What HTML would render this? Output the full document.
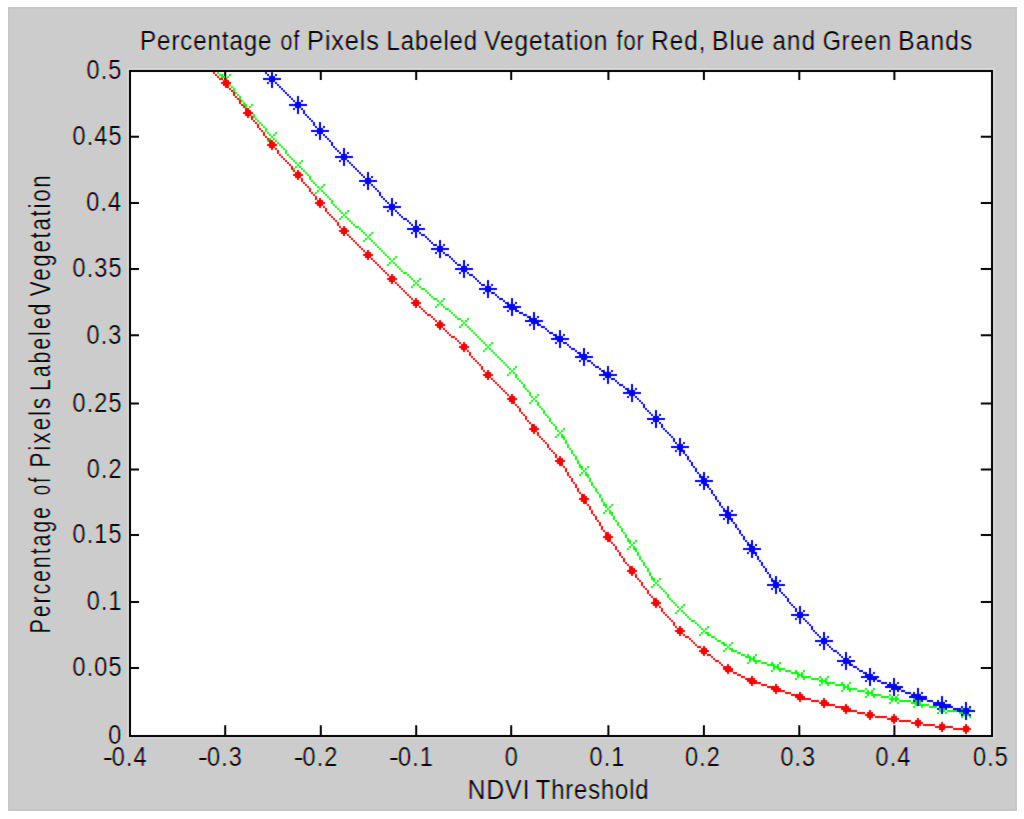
<!DOCTYPE html>
<html lang="en"><head><meta charset="utf-8"><title>Percentage of Pixels Labeled Vegetation for Red, Blue and Green Bands</title>
<style>
html,body{margin:0;padding:0;background:#fff}
body{width:1024px;height:819px;overflow:hidden;position:relative}
#fig{position:absolute;left:8px;top:7px;width:1009px;height:804px;background:#ccc;box-shadow:inset 0 0 0 2px #c7c7c7}
svg{position:absolute;left:0;top:0}
text{font-family:"Liberation Sans",Arial,Helvetica,sans-serif;fill:#000}
</style></head><body>
<div id="fig"></div>
<svg width="1024" height="819" viewBox="0 0 1024 819">
<defs>
<filter id="ct" x="0" y="0" width="1024" height="819" filterUnits="userSpaceOnUse" color-interpolation-filters="sRGB">
<feConvolveMatrix in="SourceAlpha" order="3" kernelMatrix="0.0113 0.0838 0.0113 0.0838 0.6193 0.0838 0.0113 0.0838 0.0113" divisor="1" edgeMode="none" preserveAlpha="false" result="a0"/>
<feComponentTransfer in="a0" result="a"><feFuncA type="linear" slope="1.4" intercept="-0.3"/></feComponentTransfer>
<feFlood flood-color="#fff" result="W"/>
<feOffset in="a" dx="0.7" dy="0" result="oR"/>
<feColorMatrix in="oR" type="matrix" values="0 0 0 0 0 0 0 0 0 1 0 0 0 0 1 0 0 0 1 0" result="cR"/>
<feComposite in="cR" in2="W" operator="over" result="LR"/>
<feColorMatrix in="a" type="matrix" values="0 0 0 0 1 0 0 0 0 0 0 0 0 0 1 0 0 0 1 0" result="cG"/>
<feComposite in="cG" in2="W" operator="over" result="LG"/>
<feOffset in="a" dx="-0.7" dy="0" result="oB"/>
<feColorMatrix in="oB" type="matrix" values="0 0 0 0 1 0 0 0 0 1 0 0 0 0 0 0 0 0 1 0" result="cB"/>
<feComposite in="cB" in2="W" operator="over" result="LB"/>
<feBlend in="LR" in2="LG" mode="multiply" result="m1"/>
<feBlend in="m1" in2="LB" mode="multiply" result="m2"/>
<feFlood flood-color="#cccccc" result="BG"/>
<feBlend in="m2" in2="BG" mode="multiply" result="m3"/>
<feGaussianBlur in="SourceAlpha" stdDeviation="1.1" result="wide"/>
<feComponentTransfer in="wide" result="mask"><feFuncA type="linear" slope="30" intercept="0"/></feComponentTransfer>
<feComposite in="m3" in2="mask" operator="in"/>
</filter>
<filter id="soft2" x="100" y="40" width="924" height="730" filterUnits="userSpaceOnUse" color-interpolation-filters="sRGB"><feConvolveMatrix order="3" kernelMatrix="0.0028 0.0470 0.0028 0.0470 0.8008 0.0470 0.0028 0.0470 0.0028" divisor="1" edgeMode="none" preserveAlpha="false"/></filter>
<filter id="soft" x="100" y="40" width="924" height="730" filterUnits="userSpaceOnUse" color-interpolation-filters="sRGB"><feConvolveMatrix order="3" kernelMatrix="0.0113 0.0838 0.0113 0.0838 0.6193 0.0838 0.0113 0.0838 0.0113" divisor="1" edgeMode="none" preserveAlpha="false"/></filter>
</defs>
<g filter="url(#soft2)">
<rect x="128" y="69" width="866" height="669" fill="none" stroke="#d6d6d6" stroke-width="2"/>
<rect x="130" y="71" width="862" height="665" fill="#fff" stroke="#000" stroke-width="2"/>
<path d="M224.2 735.5V725.3h2V735.5zM224.2 71.5V80h2V71.5zM319.8 735.5V725.3h2V735.5zM319.8 71.5V80h2V71.5zM415.2 735.5V725.3h2V735.5zM415.2 71.5V80h2V71.5zM510.2 735.5V725.3h2V735.5zM510.2 71.5V80h2V71.5zM607.4 735.5V725.3h2V735.5zM607.4 71.5V80h2V71.5zM702.9 735.5V725.3h2V735.5zM702.9 71.5V80h2V71.5zM798.3 735.5V725.3h2V735.5zM798.3 71.5V80h2V71.5zM893.4 735.5V725.3h2V735.5zM893.4 71.5V80h2V71.5zM130.5 667.0H139v2H130.5zM991.5 667.0H980.8v2H991.5zM130.5 600.9H139v2H130.5zM991.5 600.9H980.8v2H991.5zM130.5 534.0H139v2H130.5zM991.5 534.0H980.8v2H991.5zM130.5 468.6H139v2H130.5zM991.5 468.6H980.8v2H991.5zM130.5 402.5H139v2H130.5zM991.5 402.5H980.8v2H991.5zM130.5 334.3H139v2H130.5zM991.5 334.3H980.8v2H991.5zM130.5 268.0H139v2H130.5zM991.5 268.0H980.8v2H991.5zM130.5 202.0H139v2H130.5zM991.5 202.0H980.8v2H991.5zM130.5 135.8H139v2H130.5zM991.5 135.8H980.8v2H991.5z" fill="#000"/>
</g>
<g filter="url(#soft)"><g shape-rendering="crispEdges">
<path fill="#0f0" d="M217 72h2v2h-2zM219 74h4v2h-4zM229 74h2v2h-2zM221 76h4v2h-4zM227 76h2v2h-2zM225 78h2v2h-2zM223 80h2v2h-2zM227 80h2v2h-2zM221 82h2v2h-2zM227 82h4v2h-4zM229 84h2v2h-2zM231 86h2v2h-2zM233 88h2v2h-2zM233 90h2v2h-2zM235 92h2v2h-2zM237 94h2v2h-2zM239 96h2v2h-2zM239 98h2v2h-2zM241 100h2v2h-2zM243 102h2v2h-2zM243 104h4v2h-4zM251 104h2v2h-2zM245 106h2v2h-2zM249 106h2v2h-2zM247 108h2v2h-2zM245 110h2v2h-2zM249 110h2v2h-2zM243 112h2v2h-2zM251 112h2v2h-2zM253 114h2v2h-2zM253 116h2v2h-2zM255 118h2v2h-2zM257 120h2v2h-2zM259 122h2v2h-2zM261 124h2v2h-2zM263 126h2v2h-2zM265 128h2v2h-2zM265 130h2v2h-2zM267 132h2v2h-2zM275 132h2v2h-2zM269 134h2v2h-2zM273 134h2v2h-2zM271 136h2v2h-2zM269 138h2v2h-2zM273 138h2v2h-2zM267 140h2v2h-2zM275 140h2v2h-2zM277 142h2v2h-2zM279 144h2v2h-2zM281 146h2v2h-2zM283 148h2v2h-2zM285 150h2v2h-2zM285 152h2v2h-2zM287 154h2v2h-2zM289 156h2v2h-2zM291 158h2v2h-2zM293 160h2v2h-2zM301 160h2v2h-2zM295 162h2v2h-2zM299 162h2v2h-2zM297 164h2v2h-2zM295 166h2v2h-2zM299 166h2v2h-2zM293 168h2v2h-2zM301 168h2v2h-2zM303 170h2v2h-2zM305 172h2v2h-2zM307 174h2v2h-2zM309 176h2v2h-2zM309 178h2v2h-2zM311 180h2v2h-2zM313 182h2v2h-2zM315 184h2v2h-2zM323 184h2v2h-2zM317 186h2v2h-2zM321 186h2v2h-2zM319 188h2v2h-2zM317 190h2v2h-2zM321 190h2v2h-2zM315 192h2v2h-2zM323 192h2v2h-2zM325 194h2v2h-2zM327 196h2v2h-2zM329 198h2v2h-2zM331 200h2v2h-2zM331 202h2v2h-2zM333 204h2v2h-2zM335 206h2v2h-2zM337 208h2v2h-2zM339 210h2v2h-2zM347 210h2v2h-2zM341 212h2v2h-2zM345 212h2v2h-2zM343 214h2v2h-2zM341 216h2v2h-2zM345 216h2v2h-2zM339 218h2v2h-2zM347 218h2v2h-2zM349 220h2v2h-2zM351 222h2v2h-2zM353 224h2v2h-2zM355 226h4v2h-4zM359 228h2v2h-2zM361 230h2v2h-2zM363 232h2v2h-2zM371 232h2v2h-2zM365 234h2v2h-2zM369 234h2v2h-2zM367 236h2v2h-2zM365 238h2v2h-2zM369 238h2v2h-2zM363 240h2v2h-2zM371 240h2v2h-2zM373 242h2v2h-2zM375 244h2v2h-2zM377 246h2v2h-2zM379 248h2v2h-2zM381 250h2v2h-2zM383 252h2v2h-2zM385 254h2v2h-2zM387 256h2v2h-2zM395 256h2v2h-2zM389 258h2v2h-2zM393 258h2v2h-2zM391 260h2v2h-2zM389 262h2v2h-2zM393 262h2v2h-2zM387 264h2v2h-2zM395 264h2v2h-2zM397 266h2v2h-2zM399 268h2v2h-2zM401 270h2v2h-2zM403 272h4v2h-4zM407 274h2v2h-2zM409 276h2v2h-2zM411 278h2v2h-2zM419 278h2v2h-2zM413 280h2v2h-2zM417 280h2v2h-2zM415 282h2v2h-2zM413 284h2v2h-2zM417 284h2v2h-2zM411 286h2v2h-2zM419 286h2v2h-2zM421 288h4v2h-4zM425 290h2v2h-2zM427 292h2v2h-2zM429 294h2v2h-2zM431 296h2v2h-2zM433 298h4v2h-4zM443 298h2v2h-2zM437 300h2v2h-2zM441 300h2v2h-2zM439 302h2v2h-2zM437 304h2v2h-2zM441 304h2v2h-2zM435 306h2v2h-2zM443 306h2v2h-2zM445 308h4v2h-4zM449 310h2v2h-2zM451 312h2v2h-2zM453 314h2v2h-2zM455 316h2v2h-2zM457 318h4v2h-4zM467 318h2v2h-2zM461 320h2v2h-2zM465 320h2v2h-2zM463 322h2v2h-2zM461 324h2v2h-2zM465 324h2v2h-2zM459 326h2v2h-2zM467 326h2v2h-2zM469 328h2v2h-2zM471 330h2v2h-2zM473 332h2v2h-2zM475 334h2v2h-2zM477 336h2v2h-2zM479 338h2v2h-2zM481 340h2v2h-2zM483 342h2v2h-2zM491 342h2v2h-2zM485 344h2v2h-2zM489 344h2v2h-2zM487 346h2v2h-2zM485 348h2v2h-2zM489 348h2v2h-2zM483 350h2v2h-2zM491 350h2v2h-2zM493 352h2v2h-2zM495 354h2v2h-2zM497 356h2v2h-2zM499 358h2v2h-2zM501 360h2v2h-2zM503 362h2v2h-2zM505 364h2v2h-2zM507 366h2v2h-2zM515 366h2v2h-2zM509 368h2v2h-2zM513 368h2v2h-2zM511 370h2v2h-2zM509 372h2v2h-2zM513 372h2v2h-2zM507 374h2v2h-2zM515 374h2v2h-2zM515 376h2v2h-2zM517 378h2v2h-2zM519 380h2v2h-2zM521 382h2v2h-2zM523 384h2v2h-2zM523 386h2v2h-2zM525 388h2v2h-2zM527 390h2v2h-2zM529 392h2v2h-2zM529 394h2v2h-2zM537 394h2v2h-2zM531 396h2v2h-2zM535 396h2v2h-2zM533 398h2v2h-2zM531 400h2v2h-2zM535 400h2v2h-2zM529 402h2v2h-2zM537 402h2v2h-2zM537 404h2v2h-2zM539 406h2v2h-2zM541 408h2v2h-2zM543 410h2v2h-2zM543 412h2v2h-2zM545 414h2v2h-2zM547 416h2v2h-2zM549 418h2v2h-2zM549 420h2v2h-2zM551 422h2v2h-2zM553 424h2v2h-2zM555 426h2v2h-2zM555 428h2v2h-2zM563 428h2v2h-2zM557 430h2v2h-2zM561 430h2v2h-2zM559 432h2v2h-2zM557 434h2v2h-2zM561 434h2v2h-2zM555 436h2v2h-2zM561 436h4v2h-4zM563 438h2v2h-2zM565 440h2v2h-2zM565 442h2v2h-2zM567 444h2v2h-2zM567 446h2v2h-2zM569 448h2v2h-2zM571 450h2v2h-2zM571 452h2v2h-2zM573 454h2v2h-2zM575 456h2v2h-2zM575 458h2v2h-2zM577 460h2v2h-2zM577 462h2v2h-2zM579 464h2v2h-2zM579 466h4v2h-4zM587 466h2v2h-2zM581 468h2v2h-2zM585 468h2v2h-2zM583 470h2v2h-2zM581 472h2v2h-2zM585 472h2v2h-2zM579 474h2v2h-2zM585 474h4v2h-4zM587 476h2v2h-2zM589 478h2v2h-2zM589 480h2v2h-2zM591 482h2v2h-2zM591 484h2v2h-2zM593 486h2v2h-2zM595 488h2v2h-2zM595 490h2v2h-2zM597 492h2v2h-2zM599 494h2v2h-2zM599 496h2v2h-2zM601 498h2v2h-2zM601 500h2v2h-2zM603 502h2v2h-2zM603 504h4v2h-4zM611 504h2v2h-2zM605 506h2v2h-2zM609 506h2v2h-2zM607 508h2v2h-2zM605 510h2v2h-2zM609 510h2v2h-2zM603 512h2v2h-2zM609 512h4v2h-4zM611 514h2v2h-2zM613 516h2v2h-2zM613 518h2v2h-2zM615 520h2v2h-2zM617 522h2v2h-2zM617 524h2v2h-2zM619 526h2v2h-2zM621 528h2v2h-2zM621 530h2v2h-2zM623 532h2v2h-2zM625 534h2v2h-2zM625 536h2v2h-2zM627 538h2v2h-2zM627 540h4v2h-4zM635 540h2v2h-2zM629 542h2v2h-2zM633 542h2v2h-2zM631 544h2v2h-2zM629 546h2v2h-2zM633 546h2v2h-2zM627 548h2v2h-2zM633 548h4v2h-4zM635 550h2v2h-2zM637 552h2v2h-2zM637 554h2v2h-2zM639 556h2v2h-2zM639 558h2v2h-2zM641 560h2v2h-2zM643 562h2v2h-2zM643 564h2v2h-2zM645 566h2v2h-2zM647 568h2v2h-2zM647 570h2v2h-2zM649 572h2v2h-2zM649 574h2v2h-2zM651 576h2v2h-2zM651 578h4v2h-4zM659 578h2v2h-2zM653 580h2v2h-2zM657 580h2v2h-2zM655 582h2v2h-2zM653 584h2v2h-2zM657 584h2v2h-2zM651 586h2v2h-2zM659 586h2v2h-2zM661 588h2v2h-2zM663 590h2v2h-2zM665 592h2v2h-2zM667 594h2v2h-2zM667 596h2v2h-2zM669 598h2v2h-2zM671 600h2v2h-2zM673 602h2v2h-2zM675 604h2v2h-2zM683 604h2v2h-2zM677 606h2v2h-2zM681 606h2v2h-2zM679 608h2v2h-2zM677 610h2v2h-2zM681 610h2v2h-2zM675 612h2v2h-2zM683 612h2v2h-2zM685 614h2v2h-2zM687 616h2v2h-2zM689 618h2v2h-2zM691 620h4v2h-4zM695 622h2v2h-2zM697 624h2v2h-2zM699 626h2v2h-2zM707 626h2v2h-2zM701 628h2v2h-2zM705 628h2v2h-2zM703 630h2v2h-2zM701 632h2v2h-2zM705 632h4v2h-4zM699 634h2v2h-2zM707 634h4v2h-4zM711 636h4v2h-4zM715 638h2v2h-2zM717 640h4v2h-4zM721 642h4v2h-4zM731 642h2v2h-2zM723 644h4v2h-4zM729 644h2v2h-2zM727 646h2v2h-2zM725 648h2v2h-2zM729 648h4v2h-4zM723 650h2v2h-2zM731 650h6v2h-6zM737 652h4v2h-4zM741 654h4v2h-4zM747 654h2v2h-2zM755 654h2v2h-2zM745 656h6v2h-6zM753 656h2v2h-2zM749 658h6v2h-6zM749 660h2v2h-2zM753 660h8v2h-8zM747 662h2v2h-2zM755 662h2v2h-2zM761 662h6v2h-6zM771 662h2v2h-2zM779 662h2v2h-2zM767 664h8v2h-8zM777 664h2v2h-2zM773 666h6v2h-6zM773 668h2v2h-2zM777 668h8v2h-8zM771 670h2v2h-2zM779 670h2v2h-2zM785 670h6v2h-6zM795 670h2v2h-2zM803 670h2v2h-2zM791 672h8v2h-8zM801 672h2v2h-2zM797 674h6v2h-6zM797 676h2v2h-2zM801 676h10v2h-10zM819 676h2v2h-2zM827 676h2v2h-2zM795 678h2v2h-2zM803 678h2v2h-2zM811 678h8v2h-8zM821 678h2v2h-2zM825 678h2v2h-2zM819 680h8v2h-8zM821 682h2v2h-2zM825 682h10v2h-10zM841 682h2v2h-2zM849 682h2v2h-2zM819 684h2v2h-2zM827 684h2v2h-2zM835 684h10v2h-10zM847 684h2v2h-2zM843 686h6v2h-6zM843 688h2v2h-2zM847 688h10v2h-10zM865 688h2v2h-2zM873 688h2v2h-2zM841 690h2v2h-2zM849 690h2v2h-2zM857 690h8v2h-8zM867 690h2v2h-2zM871 690h2v2h-2zM865 692h8v2h-8zM867 694h2v2h-2zM871 694h10v2h-10zM889 694h2v2h-2zM897 694h2v2h-2zM865 696h2v2h-2zM873 696h2v2h-2zM881 696h8v2h-8zM891 696h2v2h-2zM895 696h2v2h-2zM889 698h10v2h-10zM913 698h2v2h-2zM921 698h2v2h-2zM891 700h2v2h-2zM895 700h2v2h-2zM899 700h12v2h-12zM915 700h2v2h-2zM919 700h2v2h-2zM889 702h2v2h-2zM897 702h2v2h-2zM911 702h10v2h-10zM915 704h2v2h-2zM919 704h10v2h-10zM937 704h2v2h-2zM945 704h2v2h-2zM913 706h2v2h-2zM921 706h2v2h-2zM929 706h8v2h-8zM939 706h2v2h-2zM943 706h2v2h-2zM937 708h10v2h-10zM961 708h2v2h-2zM969 708h2v2h-2zM939 710h2v2h-2zM943 710h2v2h-2zM947 710h12v2h-12zM963 710h2v2h-2zM967 710h2v2h-2zM937 712h2v2h-2zM945 712h2v2h-2zM959 712h8v2h-8zM963 714h2v2h-2zM967 714h2v2h-2zM961 716h2v2h-2zM969 716h2v2h-2z"/>
<path fill="#f00" d="M213 72h2v2h-2zM215 74h2v2h-2zM217 76h2v2h-2zM219 78h4v2h-4zM225 78h2v2h-2zM223 80h6v2h-6zM221 82h10v2h-10zM223 84h6v2h-6zM225 86h4v2h-4zM229 88h2v2h-2zM231 90h2v2h-2zM233 92h2v2h-2zM233 94h2v2h-2zM235 96h2v2h-2zM237 98h2v2h-2zM239 100h2v2h-2zM239 102h2v2h-2zM241 104h2v2h-2zM243 106h2v2h-2zM245 108h4v2h-4zM245 110h6v2h-6zM243 112h10v2h-10zM245 114h6v2h-6zM247 116h2v2h-2zM251 116h2v2h-2zM251 118h2v2h-2zM253 120h2v2h-2zM255 122h2v2h-2zM257 124h2v2h-2zM257 126h2v2h-2zM259 128h2v2h-2zM261 130h2v2h-2zM263 132h2v2h-2zM263 134h2v2h-2zM265 136h2v2h-2zM267 138h2v2h-2zM269 140h4v2h-4zM269 142h6v2h-6zM267 144h10v2h-10zM269 146h6v2h-6zM271 148h2v2h-2zM275 148h2v2h-2zM277 150h2v2h-2zM277 152h2v2h-2zM279 154h2v2h-2zM281 156h2v2h-2zM283 158h2v2h-2zM285 160h2v2h-2zM287 162h2v2h-2zM289 164h2v2h-2zM291 166h2v2h-2zM291 168h2v2h-2zM293 170h2v2h-2zM297 170h2v2h-2zM295 172h6v2h-6zM293 174h10v2h-10zM295 176h6v2h-6zM297 178h2v2h-2zM301 178h2v2h-2zM301 180h2v2h-2zM303 182h2v2h-2zM305 184h2v2h-2zM307 186h2v2h-2zM309 188h2v2h-2zM309 190h2v2h-2zM311 192h2v2h-2zM313 194h2v2h-2zM315 196h2v2h-2zM315 198h2v2h-2zM319 198h2v2h-2zM317 200h6v2h-6zM315 202h10v2h-10zM317 204h6v2h-6zM319 206h2v2h-2zM323 206h2v2h-2zM325 208h2v2h-2zM325 210h2v2h-2zM327 212h2v2h-2zM329 214h2v2h-2zM331 216h2v2h-2zM333 218h2v2h-2zM335 220h2v2h-2zM337 222h2v2h-2zM337 224h2v2h-2zM339 226h2v2h-2zM343 226h2v2h-2zM341 228h6v2h-6zM339 230h10v2h-10zM341 232h6v2h-6zM343 234h2v2h-2zM347 234h2v2h-2zM349 236h2v2h-2zM351 238h2v2h-2zM353 240h2v2h-2zM355 242h2v2h-2zM357 244h2v2h-2zM359 246h2v2h-2zM361 248h2v2h-2zM363 250h2v2h-2zM367 250h2v2h-2zM365 252h6v2h-6zM363 254h10v2h-10zM365 256h6v2h-6zM367 258h2v2h-2zM371 258h2v2h-2zM373 260h2v2h-2zM375 262h2v2h-2zM377 264h2v2h-2zM379 266h2v2h-2zM381 268h2v2h-2zM383 270h2v2h-2zM385 272h2v2h-2zM387 274h2v2h-2zM391 274h2v2h-2zM389 276h6v2h-6zM387 278h10v2h-10zM389 280h6v2h-6zM391 282h2v2h-2zM395 282h2v2h-2zM397 284h2v2h-2zM399 286h2v2h-2zM401 288h2v2h-2zM403 290h2v2h-2zM405 292h2v2h-2zM407 294h2v2h-2zM409 296h2v2h-2zM411 298h2v2h-2zM415 298h2v2h-2zM413 300h6v2h-6zM411 302h10v2h-10zM413 304h6v2h-6zM415 306h2v2h-2zM419 306h2v2h-2zM421 308h2v2h-2zM423 310h2v2h-2zM425 312h2v2h-2zM427 314h4v2h-4zM431 316h2v2h-2zM433 318h2v2h-2zM435 320h2v2h-2zM439 320h2v2h-2zM437 322h6v2h-6zM435 324h10v2h-10zM437 326h6v2h-6zM439 328h2v2h-2zM443 328h2v2h-2zM445 330h2v2h-2zM447 332h2v2h-2zM449 334h2v2h-2zM451 336h4v2h-4zM455 338h2v2h-2zM457 340h2v2h-2zM459 342h2v2h-2zM463 342h2v2h-2zM461 344h6v2h-6zM459 346h10v2h-10zM461 348h6v2h-6zM463 350h2v2h-2zM467 350h2v2h-2zM469 352h2v2h-2zM469 354h2v2h-2zM471 356h2v2h-2zM473 358h2v2h-2zM475 360h2v2h-2zM477 362h2v2h-2zM479 364h2v2h-2zM481 366h2v2h-2zM481 368h2v2h-2zM483 370h2v2h-2zM487 370h2v2h-2zM485 372h6v2h-6zM483 374h10v2h-10zM485 376h6v2h-6zM487 378h2v2h-2zM491 378h2v2h-2zM493 380h2v2h-2zM495 382h2v2h-2zM497 384h2v2h-2zM499 386h2v2h-2zM501 388h2v2h-2zM503 390h2v2h-2zM505 392h2v2h-2zM507 394h2v2h-2zM511 394h2v2h-2zM509 396h6v2h-6zM507 398h10v2h-10zM509 400h6v2h-6zM511 402h4v2h-4zM515 404h2v2h-2zM517 406h2v2h-2zM519 408h2v2h-2zM519 410h2v2h-2zM521 412h2v2h-2zM523 414h2v2h-2zM525 416h2v2h-2zM525 418h2v2h-2zM527 420h2v2h-2zM529 422h2v2h-2zM531 424h4v2h-4zM531 426h6v2h-6zM529 428h10v2h-10zM531 430h6v2h-6zM533 432h2v2h-2zM537 432h2v2h-2zM537 434h2v2h-2zM539 436h2v2h-2zM541 438h2v2h-2zM543 440h2v2h-2zM545 442h2v2h-2zM547 444h2v2h-2zM547 446h2v2h-2zM549 448h2v2h-2zM551 450h2v2h-2zM553 452h2v2h-2zM555 454h2v2h-2zM555 456h2v2h-2zM559 456h2v2h-2zM557 458h6v2h-6zM555 460h10v2h-10zM557 462h6v2h-6zM559 464h4v2h-4zM563 466h2v2h-2zM565 468h2v2h-2zM565 470h2v2h-2zM567 472h2v2h-2zM567 474h2v2h-2zM569 476h2v2h-2zM571 478h2v2h-2zM571 480h2v2h-2zM573 482h2v2h-2zM575 484h2v2h-2zM575 486h2v2h-2zM577 488h2v2h-2zM577 490h2v2h-2zM579 492h2v2h-2zM581 494h4v2h-4zM581 496h6v2h-6zM579 498h10v2h-10zM581 500h6v2h-6zM583 502h4v2h-4zM587 504h2v2h-2zM589 506h2v2h-2zM589 508h2v2h-2zM591 510h2v2h-2zM591 512h2v2h-2zM593 514h2v2h-2zM595 516h2v2h-2zM595 518h2v2h-2zM597 520h2v2h-2zM599 522h2v2h-2zM599 524h2v2h-2zM601 526h2v2h-2zM601 528h2v2h-2zM603 530h2v2h-2zM605 532h4v2h-4zM605 534h6v2h-6zM603 536h10v2h-10zM605 538h6v2h-6zM607 540h4v2h-4zM611 542h2v2h-2zM613 544h2v2h-2zM615 546h2v2h-2zM615 548h2v2h-2zM617 550h2v2h-2zM619 552h2v2h-2zM619 554h2v2h-2zM621 556h2v2h-2zM623 558h2v2h-2zM623 560h2v2h-2zM625 562h2v2h-2zM627 564h2v2h-2zM629 566h4v2h-4zM629 568h6v2h-6zM627 570h10v2h-10zM629 572h6v2h-6zM631 574h2v2h-2zM635 574h2v2h-2zM635 576h2v2h-2zM637 578h2v2h-2zM639 580h2v2h-2zM641 582h2v2h-2zM641 584h2v2h-2zM643 586h2v2h-2zM645 588h2v2h-2zM647 590h2v2h-2zM647 592h2v2h-2zM649 594h2v2h-2zM651 596h2v2h-2zM653 598h4v2h-4zM653 600h6v2h-6zM651 602h10v2h-10zM653 604h6v2h-6zM655 606h2v2h-2zM659 606h2v2h-2zM661 608h2v2h-2zM661 610h2v2h-2zM663 612h2v2h-2zM665 614h2v2h-2zM667 616h2v2h-2zM669 618h2v2h-2zM671 620h2v2h-2zM673 622h2v2h-2zM673 624h2v2h-2zM675 626h2v2h-2zM679 626h2v2h-2zM677 628h6v2h-6zM675 630h10v2h-10zM677 632h6v2h-6zM679 634h2v2h-2zM683 634h2v2h-2zM685 636h4v2h-4zM689 638h2v2h-2zM691 640h2v2h-2zM693 642h2v2h-2zM695 644h2v2h-2zM697 646h4v2h-4zM703 646h2v2h-2zM701 648h6v2h-6zM699 650h10v2h-10zM701 652h6v2h-6zM703 654h2v2h-2zM707 654h4v2h-4zM711 656h2v2h-2zM713 658h2v2h-2zM715 660h4v2h-4zM719 662h2v2h-2zM721 664h2v2h-2zM727 664h2v2h-2zM723 666h8v2h-8zM723 668h10v2h-10zM725 670h8v2h-8zM727 672h2v2h-2zM733 672h4v2h-4zM737 674h4v2h-4zM741 676h4v2h-4zM751 676h2v2h-2zM745 678h10v2h-10zM747 680h10v2h-10zM749 682h12v2h-12zM751 684h2v2h-2zM761 684h6v2h-6zM775 684h2v2h-2zM767 686h12v2h-12zM771 688h10v2h-10zM773 690h12v2h-12zM775 692h2v2h-2zM785 692h6v2h-6zM799 692h2v2h-2zM791 694h12v2h-12zM795 696h10v2h-10zM797 698h14v2h-14zM823 698h2v2h-2zM799 700h2v2h-2zM811 700h8v2h-8zM821 700h6v2h-6zM819 702h10v2h-10zM821 704h14v2h-14zM845 704h2v2h-2zM823 706h2v2h-2zM835 706h14v2h-14zM841 708h10v2h-10zM843 710h14v2h-14zM869 710h2v2h-2zM845 712h2v2h-2zM857 712h8v2h-8zM867 712h6v2h-6zM865 714h10v2h-10zM893 714h2v2h-2zM867 716h6v2h-6zM875 716h12v2h-12zM891 716h6v2h-6zM869 718h2v2h-2zM887 718h12v2h-12zM917 718h2v2h-2zM891 720h6v2h-6zM899 720h12v2h-12zM915 720h6v2h-6zM893 722h2v2h-2zM911 722h12v2h-12zM941 722h2v2h-2zM915 724h6v2h-6zM923 724h12v2h-12zM939 724h6v2h-6zM965 724h2v2h-2zM917 726h2v2h-2zM935 726h18v2h-18zM963 726h6v2h-6zM939 728h6v2h-6zM953 728h18v2h-18zM941 730h2v2h-2zM963 730h6v2h-6zM965 732h2v2h-2z"/>
<path fill="#00f" d="M265 72h2v2h-2zM271 72h2v2h-2zM267 74h2v2h-2zM271 74h2v2h-2zM275 74h2v2h-2zM269 76h6v2h-6zM263 78h18v2h-18zM269 80h6v2h-6zM267 82h2v2h-2zM271 82h2v2h-2zM275 82h2v2h-2zM271 84h2v2h-2zM277 84h2v2h-2zM271 86h2v2h-2zM279 86h2v2h-2zM281 88h2v2h-2zM283 90h2v2h-2zM285 92h2v2h-2zM287 94h2v2h-2zM289 96h2v2h-2zM297 96h2v2h-2zM291 98h2v2h-2zM297 98h2v2h-2zM293 100h2v2h-2zM297 100h2v2h-2zM301 100h2v2h-2zM295 102h6v2h-6zM289 104h18v2h-18zM295 106h6v2h-6zM293 108h2v2h-2zM297 108h2v2h-2zM301 108h2v2h-2zM297 110h2v2h-2zM303 110h2v2h-2zM297 112h2v2h-2zM303 112h2v2h-2zM305 114h2v2h-2zM307 116h2v2h-2zM309 118h2v2h-2zM311 120h2v2h-2zM313 122h2v2h-2zM319 122h2v2h-2zM313 124h2v2h-2zM319 124h2v2h-2zM315 126h2v2h-2zM319 126h2v2h-2zM323 126h2v2h-2zM317 128h6v2h-6zM311 130h18v2h-18zM317 132h6v2h-6zM315 134h2v2h-2zM319 134h2v2h-2zM323 134h2v2h-2zM319 136h2v2h-2zM325 136h2v2h-2zM319 138h2v2h-2zM327 138h2v2h-2zM329 140h2v2h-2zM331 142h2v2h-2zM331 144h2v2h-2zM333 146h2v2h-2zM335 148h2v2h-2zM343 148h2v2h-2zM337 150h2v2h-2zM343 150h2v2h-2zM339 152h2v2h-2zM343 152h2v2h-2zM347 152h2v2h-2zM341 154h6v2h-6zM335 156h18v2h-18zM341 158h6v2h-6zM339 160h2v2h-2zM343 160h2v2h-2zM347 160h2v2h-2zM343 162h2v2h-2zM349 162h2v2h-2zM343 164h2v2h-2zM351 164h2v2h-2zM353 166h2v2h-2zM355 168h2v2h-2zM357 170h2v2h-2zM359 172h2v2h-2zM367 172h2v2h-2zM361 174h2v2h-2zM367 174h2v2h-2zM363 176h2v2h-2zM367 176h2v2h-2zM371 176h2v2h-2zM365 178h6v2h-6zM359 180h18v2h-18zM365 182h6v2h-6zM363 184h2v2h-2zM367 184h2v2h-2zM371 184h2v2h-2zM367 186h2v2h-2zM373 186h2v2h-2zM367 188h2v2h-2zM375 188h2v2h-2zM377 190h2v2h-2zM379 192h2v2h-2zM379 194h2v2h-2zM381 196h2v2h-2zM383 198h2v2h-2zM391 198h2v2h-2zM385 200h2v2h-2zM391 200h2v2h-2zM387 202h2v2h-2zM391 202h2v2h-2zM395 202h2v2h-2zM389 204h6v2h-6zM383 206h18v2h-18zM389 208h6v2h-6zM387 210h2v2h-2zM391 210h2v2h-2zM395 210h2v2h-2zM391 212h2v2h-2zM397 212h2v2h-2zM391 214h2v2h-2zM399 214h2v2h-2zM401 216h2v2h-2zM403 218h4v2h-4zM407 220h2v2h-2zM415 220h2v2h-2zM409 222h2v2h-2zM415 222h2v2h-2zM411 224h2v2h-2zM415 224h2v2h-2zM419 224h2v2h-2zM413 226h6v2h-6zM407 228h18v2h-18zM413 230h6v2h-6zM411 232h2v2h-2zM415 232h2v2h-2zM419 232h2v2h-2zM415 234h2v2h-2zM421 234h4v2h-4zM415 236h2v2h-2zM425 236h2v2h-2zM427 238h2v2h-2zM429 240h2v2h-2zM439 240h2v2h-2zM431 242h2v2h-2zM439 242h2v2h-2zM433 244h4v2h-4zM439 244h2v2h-2zM443 244h2v2h-2zM437 246h6v2h-6zM431 248h18v2h-18zM437 250h6v2h-6zM435 252h2v2h-2zM439 252h2v2h-2zM443 252h2v2h-2zM439 254h2v2h-2zM445 254h4v2h-4zM439 256h2v2h-2zM449 256h2v2h-2zM451 258h2v2h-2zM453 260h2v2h-2zM463 260h2v2h-2zM455 262h2v2h-2zM463 262h2v2h-2zM457 264h4v2h-4zM463 264h2v2h-2zM467 264h2v2h-2zM461 266h6v2h-6zM455 268h18v2h-18zM461 270h6v2h-6zM459 272h2v2h-2zM463 272h2v2h-2zM467 272h2v2h-2zM463 274h2v2h-2zM469 274h4v2h-4zM463 276h2v2h-2zM473 276h2v2h-2zM475 278h2v2h-2zM477 280h2v2h-2zM487 280h2v2h-2zM479 282h2v2h-2zM487 282h2v2h-2zM481 284h4v2h-4zM487 284h2v2h-2zM491 284h2v2h-2zM485 286h6v2h-6zM479 288h18v2h-18zM485 290h6v2h-6zM483 292h2v2h-2zM487 292h2v2h-2zM491 292h4v2h-4zM487 294h2v2h-2zM495 294h2v2h-2zM487 296h2v2h-2zM497 296h2v2h-2zM499 298h4v2h-4zM511 298h2v2h-2zM503 300h2v2h-2zM511 300h2v2h-2zM505 302h4v2h-4zM511 302h2v2h-2zM515 302h2v2h-2zM507 304h8v2h-8zM503 306h18v2h-18zM509 308h8v2h-8zM507 310h2v2h-2zM511 310h2v2h-2zM515 310h4v2h-4zM511 312h2v2h-2zM519 312h4v2h-4zM533 312h2v2h-2zM511 314h2v2h-2zM523 314h4v2h-4zM533 314h2v2h-2zM527 316h4v2h-4zM533 316h2v2h-2zM537 316h2v2h-2zM529 318h8v2h-8zM525 320h18v2h-18zM531 322h8v2h-8zM529 324h2v2h-2zM533 324h2v2h-2zM537 324h4v2h-4zM533 326h2v2h-2zM541 326h4v2h-4zM533 328h2v2h-2zM545 328h2v2h-2zM547 330h2v2h-2zM559 330h2v2h-2zM549 332h4v2h-4zM559 332h2v2h-2zM553 334h4v2h-4zM559 334h2v2h-2zM563 334h2v2h-2zM555 336h8v2h-8zM551 338h18v2h-18zM557 340h6v2h-6zM555 342h2v2h-2zM559 342h2v2h-2zM563 342h4v2h-4zM559 344h2v2h-2zM567 344h2v2h-2zM559 346h2v2h-2zM569 346h2v2h-2zM571 348h4v2h-4zM583 348h2v2h-2zM575 350h2v2h-2zM583 350h2v2h-2zM577 352h4v2h-4zM583 352h2v2h-2zM587 352h2v2h-2zM579 354h8v2h-8zM575 356h18v2h-18zM581 358h6v2h-6zM579 360h2v2h-2zM583 360h2v2h-2zM587 360h4v2h-4zM583 362h2v2h-2zM591 362h2v2h-2zM583 364h2v2h-2zM593 364h2v2h-2zM595 366h4v2h-4zM607 366h2v2h-2zM599 368h2v2h-2zM607 368h2v2h-2zM601 370h4v2h-4zM607 370h2v2h-2zM611 370h2v2h-2zM603 372h8v2h-8zM599 374h18v2h-18zM605 376h6v2h-6zM603 378h2v2h-2zM607 378h2v2h-2zM611 378h4v2h-4zM607 380h2v2h-2zM615 380h2v2h-2zM607 382h2v2h-2zM617 382h2v2h-2zM619 384h4v2h-4zM631 384h2v2h-2zM623 386h2v2h-2zM631 386h2v2h-2zM625 388h4v2h-4zM631 388h2v2h-2zM635 388h2v2h-2zM627 390h8v2h-8zM623 392h18v2h-18zM629 394h6v2h-6zM627 396h2v2h-2zM631 396h2v2h-2zM635 396h2v2h-2zM631 398h2v2h-2zM637 398h2v2h-2zM631 400h2v2h-2zM639 400h2v2h-2zM641 402h2v2h-2zM643 404h2v2h-2zM643 406h2v2h-2zM645 408h2v2h-2zM647 410h2v2h-2zM655 410h2v2h-2zM649 412h2v2h-2zM655 412h2v2h-2zM651 414h2v2h-2zM655 414h2v2h-2zM659 414h2v2h-2zM653 416h6v2h-6zM647 418h18v2h-18zM653 420h6v2h-6zM651 422h2v2h-2zM655 422h2v2h-2zM659 422h2v2h-2zM655 424h2v2h-2zM661 424h2v2h-2zM655 426h2v2h-2zM661 426h2v2h-2zM663 428h2v2h-2zM665 430h2v2h-2zM667 432h2v2h-2zM669 434h2v2h-2zM671 436h2v2h-2zM673 438h2v2h-2zM679 438h2v2h-2zM673 440h2v2h-2zM679 440h2v2h-2zM675 442h2v2h-2zM679 442h2v2h-2zM683 442h2v2h-2zM677 444h6v2h-6zM671 446h18v2h-18zM677 448h6v2h-6zM675 450h2v2h-2zM679 450h6v2h-6zM679 452h2v2h-2zM683 452h2v2h-2zM679 454h2v2h-2zM685 454h2v2h-2zM687 456h2v2h-2zM687 458h2v2h-2zM689 460h2v2h-2zM691 462h2v2h-2zM691 464h2v2h-2zM693 466h2v2h-2zM695 468h2v2h-2zM695 470h2v2h-2zM697 472h2v2h-2zM703 472h2v2h-2zM699 474h2v2h-2zM703 474h2v2h-2zM699 476h6v2h-6zM707 476h2v2h-2zM701 478h6v2h-6zM695 480h18v2h-18zM701 482h6v2h-6zM699 484h2v2h-2zM703 484h6v2h-6zM703 486h2v2h-2zM707 486h2v2h-2zM703 488h2v2h-2zM709 488h2v2h-2zM711 490h2v2h-2zM711 492h2v2h-2zM713 494h2v2h-2zM715 496h2v2h-2zM715 498h2v2h-2zM717 500h2v2h-2zM719 502h2v2h-2zM719 504h2v2h-2zM721 506h2v2h-2zM727 506h2v2h-2zM723 508h2v2h-2zM727 508h2v2h-2zM723 510h6v2h-6zM731 510h2v2h-2zM725 512h6v2h-6zM719 514h18v2h-18zM725 516h6v2h-6zM723 518h2v2h-2zM727 518h6v2h-6zM727 520h2v2h-2zM731 520h2v2h-2zM727 522h2v2h-2zM733 522h2v2h-2zM735 524h2v2h-2zM735 526h2v2h-2zM737 528h2v2h-2zM739 530h2v2h-2zM739 532h2v2h-2zM741 534h2v2h-2zM743 536h2v2h-2zM743 538h2v2h-2zM745 540h2v2h-2zM751 540h2v2h-2zM747 542h2v2h-2zM751 542h2v2h-2zM747 544h6v2h-6zM755 544h2v2h-2zM749 546h6v2h-6zM743 548h18v2h-18zM749 550h6v2h-6zM747 552h2v2h-2zM751 552h6v2h-6zM751 554h2v2h-2zM755 554h2v2h-2zM751 556h2v2h-2zM757 556h2v2h-2zM757 558h2v2h-2zM759 560h2v2h-2zM761 562h2v2h-2zM761 564h2v2h-2zM763 566h2v2h-2zM765 568h2v2h-2zM765 570h2v2h-2zM767 572h2v2h-2zM769 574h2v2h-2zM769 576h2v2h-2zM775 576h2v2h-2zM771 578h2v2h-2zM775 578h2v2h-2zM771 580h6v2h-6zM779 580h2v2h-2zM773 582h6v2h-6zM767 584h18v2h-18zM773 586h6v2h-6zM771 588h2v2h-2zM775 588h2v2h-2zM779 588h2v2h-2zM775 590h2v2h-2zM779 590h2v2h-2zM775 592h2v2h-2zM781 592h2v2h-2zM783 594h2v2h-2zM785 596h2v2h-2zM787 598h2v2h-2zM787 600h2v2h-2zM789 602h2v2h-2zM791 604h2v2h-2zM793 606h2v2h-2zM799 606h2v2h-2zM795 608h2v2h-2zM799 608h2v2h-2zM795 610h2v2h-2zM799 610h2v2h-2zM803 610h2v2h-2zM797 612h6v2h-6zM791 614h18v2h-18zM797 616h6v2h-6zM795 618h2v2h-2zM799 618h2v2h-2zM803 618h2v2h-2zM799 620h2v2h-2zM805 620h2v2h-2zM799 622h2v2h-2zM807 622h2v2h-2zM809 624h2v2h-2zM811 626h2v2h-2zM811 628h2v2h-2zM813 630h2v2h-2zM815 632h2v2h-2zM823 632h2v2h-2zM817 634h2v2h-2zM823 634h2v2h-2zM819 636h2v2h-2zM823 636h2v2h-2zM827 636h2v2h-2zM821 638h6v2h-6zM815 640h18v2h-18zM821 642h6v2h-6zM819 644h2v2h-2zM823 644h2v2h-2zM827 644h2v2h-2zM823 646h2v2h-2zM829 646h2v2h-2zM823 648h2v2h-2zM831 648h2v2h-2zM833 650h4v2h-4zM837 652h2v2h-2zM845 652h2v2h-2zM839 654h2v2h-2zM845 654h2v2h-2zM841 656h2v2h-2zM845 656h2v2h-2zM849 656h2v2h-2zM843 658h6v2h-6zM837 660h18v2h-18zM843 662h8v2h-8zM841 664h2v2h-2zM845 664h2v2h-2zM849 664h4v2h-4zM845 666h2v2h-2zM853 666h4v2h-4zM845 668h2v2h-2zM857 668h2v2h-2zM869 668h2v2h-2zM859 670h4v2h-4zM869 670h2v2h-2zM863 672h4v2h-4zM869 672h2v2h-2zM873 672h2v2h-2zM865 674h8v2h-8zM861 676h18v2h-18zM867 678h10v2h-10zM893 678h2v2h-2zM865 680h2v2h-2zM869 680h2v2h-2zM873 680h2v2h-2zM877 680h4v2h-4zM893 680h2v2h-2zM869 682h2v2h-2zM881 682h6v2h-6zM889 682h2v2h-2zM893 682h2v2h-2zM897 682h2v2h-2zM869 684h2v2h-2zM887 684h10v2h-10zM885 686h18v2h-18zM891 688h10v2h-10zM917 688h2v2h-2zM889 690h2v2h-2zM893 690h2v2h-2zM897 690h2v2h-2zM901 690h4v2h-4zM917 690h2v2h-2zM893 692h2v2h-2zM905 692h6v2h-6zM913 692h2v2h-2zM917 692h2v2h-2zM921 692h2v2h-2zM893 694h2v2h-2zM911 694h10v2h-10zM909 696h18v2h-18zM941 696h2v2h-2zM915 698h12v2h-12zM941 698h2v2h-2zM913 700h2v2h-2zM917 700h2v2h-2zM921 700h2v2h-2zM927 700h6v2h-6zM937 700h2v2h-2zM941 700h2v2h-2zM945 700h2v2h-2zM917 702h2v2h-2zM933 702h12v2h-12zM965 702h2v2h-2zM917 704h2v2h-2zM933 704h18v2h-18zM965 704h2v2h-2zM939 706h14v2h-14zM961 706h2v2h-2zM965 706h2v2h-2zM969 706h2v2h-2zM937 708h2v2h-2zM941 708h2v2h-2zM945 708h2v2h-2zM953 708h8v2h-8zM963 708h6v2h-6zM941 710h2v2h-2zM957 710h18v2h-18zM941 712h2v2h-2zM963 712h6v2h-6zM961 714h2v2h-2zM965 714h2v2h-2zM969 714h2v2h-2zM965 716h2v2h-2zM965 718h2v2h-2z"/>
</g></g>
<g id="labels" filter="url(#ct)">
<g id="title"><text transform="translate(139.84 50.2) scale(0.9417 1.07)" font-size="26" letter-spacing="0.759">Percentage</text><text transform="translate(280.13 50.2) scale(0.8371 1.07)" font-size="26" letter-spacing="1.081">of</text><text transform="translate(306.84 50.2) scale(0.9887 1.07)" font-size="26" letter-spacing="0.698">Pixels</text><text transform="translate(386.26 50.2) scale(0.9344 1.07)" font-size="26" letter-spacing="0.778">Labeled</text><text transform="translate(483.95 50.2) scale(0.9555 1.07)" font-size="26" letter-spacing="0.707">Vegetation</text><text transform="translate(616.28 50.2) scale(0.8558 1.07)" font-size="26" letter-spacing="0.780">for</text><text transform="translate(651.04 50.2) scale(0.9417 1.07)" font-size="26" letter-spacing="0.885">Red,</text><text transform="translate(711.81 50.2) scale(0.9582 1.07)" font-size="26" letter-spacing="0.858">Blue</text><text transform="translate(772.33 50.2) scale(0.9369 1.07)" font-size="26" letter-spacing="1.067">and</text><text transform="translate(822.43 50.2) scale(0.9038 1.07)" font-size="26" letter-spacing="0.910">Green</text><text transform="translate(898.11 50.2) scale(0.9578 1.07)" font-size="26" letter-spacing="0.931">Bands</text></g>
<g id="xlabel"><text transform="translate(467.42 799.1) scale(0.9513 1.07)" font-size="26" letter-spacing="1.013">NDVI</text><text transform="translate(535.52 799.1) scale(0.9285 1.07)" font-size="26" letter-spacing="0.746">Threshold</text></g>
<g id="xticks"><text transform="translate(102.40 766.3) scale(1.22 1.1)" font-size="25.6">-</text><text transform="translate(111.55 766.3) scale(0.93 1.1)" font-size="25.6" letter-spacing="1.0">0.4</text><text transform="translate(197.60 766.3) scale(1.22 1.1)" font-size="25.6">-</text><text transform="translate(206.75 766.3) scale(0.93 1.1)" font-size="25.6" letter-spacing="1.0">0.3</text><text transform="translate(293.20 766.3) scale(1.22 1.1)" font-size="25.6">-</text><text transform="translate(302.35 766.3) scale(0.93 1.1)" font-size="25.6" letter-spacing="1.0">0.2</text><text transform="translate(388.60 766.3) scale(1.22 1.1)" font-size="25.6">-</text><text transform="translate(397.75 766.3) scale(0.93 1.1)" font-size="25.6" letter-spacing="1.0">0.1</text><text transform="translate(504.45 766.3) scale(0.93 1.1)" font-size="25.6" letter-spacing="1.0">0</text><text transform="translate(589.25 766.3) scale(0.93 1.1)" font-size="25.6" letter-spacing="1.0">0.1</text><text transform="translate(684.75 766.3) scale(0.93 1.1)" font-size="25.6" letter-spacing="1.0">0.2</text><text transform="translate(780.15 766.3) scale(0.93 1.1)" font-size="25.6" letter-spacing="1.0">0.3</text><text transform="translate(875.25 766.3) scale(0.93 1.1)" font-size="25.6" letter-spacing="1.0">0.4</text><text transform="translate(972.85 766.3) scale(0.93 1.1)" font-size="25.6" letter-spacing="1.0">0.5</text></g>
<g id="yticks"><text transform="translate(107.92 744.3) scale(0.93 1.1)" font-size="25.6" letter-spacing="1.0">0</text><text transform="translate(72.27 676.3) scale(0.93 1.1)" font-size="25.6" letter-spacing="1.0">0.05</text><text transform="translate(86.54 610.2) scale(0.93 1.1)" font-size="25.6" letter-spacing="1.0">0.1</text><text transform="translate(72.27 543.3) scale(0.93 1.1)" font-size="25.6" letter-spacing="1.0">0.15</text><text transform="translate(86.54 477.9) scale(0.93 1.1)" font-size="25.6" letter-spacing="1.0">0.2</text><text transform="translate(72.27 411.8) scale(0.93 1.1)" font-size="25.6" letter-spacing="1.0">0.25</text><text transform="translate(86.30 343.6) scale(0.93 1.1)" font-size="25.6" letter-spacing="1.0">0.3</text><text transform="translate(72.27 277.3) scale(0.93 1.1)" font-size="25.6" letter-spacing="1.0">0.35</text><text transform="translate(86.06 211.3) scale(0.93 1.1)" font-size="25.6" letter-spacing="1.0">0.4</text><text transform="translate(72.27 145.1) scale(0.93 1.1)" font-size="25.6" letter-spacing="1.0">0.45</text><text transform="translate(86.30 79.3) scale(0.93 1.1)" font-size="25.6" letter-spacing="1.0">0.5</text></g>
<g id="ylabel"><text transform="translate(49.6 633.53) rotate(-90) scale(0.8445 1.12)" font-size="25.6" letter-spacing="2.121">Percentage</text><text transform="translate(49.6 495.14) rotate(-90) scale(0.7184 1.12)" font-size="25.6" letter-spacing="3.022">of</text><text transform="translate(49.6 467.74) rotate(-90) scale(0.8969 1.12)" font-size="25.6" letter-spacing="1.951">Pixels</text><text transform="translate(49.6 390.92) rotate(-90) scale(0.8381 1.12)" font-size="25.6" letter-spacing="2.174">Labeled</text><text transform="translate(49.6 296.22) rotate(-90) scale(0.8719 1.12)" font-size="25.6" letter-spacing="1.976">Vegetation</text></g>
</g>
</svg>
</body></html>
